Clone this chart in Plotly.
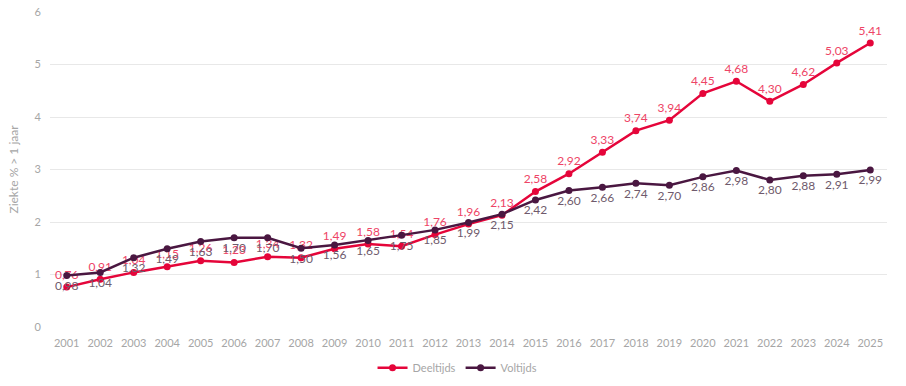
import plotly.graph_objects as go

years = [str(y) for y in range(2001, 2026)]
deeltijds = [0.76, 0.91, 1.04, 1.15, 1.26, 1.23, 1.34, 1.32, 1.49, 1.58, 1.54, 1.76, 1.96,
             2.13, 2.58, 2.92, 3.33, 3.74, 3.94, 4.45, 4.68, 4.30, 4.62, 5.03, 5.41]
voltijds = [0.98, 1.04, 1.32, 1.49, 1.63, 1.70, 1.70, 1.50, 1.56, 1.65, 1.75, 1.85, 1.99,
            2.15, 2.42, 2.60, 2.66, 2.74, 2.70, 2.86, 2.98, 2.80, 2.88, 2.91, 2.99]
y_ticks = [0, 1, 2, 3, 4, 5, 6]

def fmt(v):
    return f"{v:.2f}".replace(".", ",")

FONT = "Lato, 'Open Sans', sans-serif"

fig = go.Figure()
fig.add_trace(go.Scatter(
    x=years, y=deeltijds, name="Deeltijds", mode="lines+markers+text",
    line=dict(color="#E5053A", width=2.5), marker=dict(size=7, color="#E5053A"),
    text=[fmt(v) for v in deeltijds], textposition="top center",
    textfont=dict(color="#EE4466", size=12, family=FONT),
    cliponaxis=False,
))
fig.add_trace(go.Scatter(
    x=years, y=voltijds, name="Voltijds", mode="lines+markers+text",
    line=dict(color="#4A1741", width=2.5), marker=dict(size=7, color="#4A1741"),
    text=[fmt(v) for v in voltijds], textposition="bottom center",
    textfont=dict(color="#6F5A6C", size=12, family=FONT),
    cliponaxis=False,
))

fig.update_layout(
    width=906, height=386,
    margin=dict(l=50, r=19, t=12, b=59, autoexpand=False),
    paper_bgcolor="white", plot_bgcolor="white",
    font=dict(family=FONT, color="#A6A6A6", size=11),
    showlegend=True,
    legend=dict(orientation="h", x=0.505, xref="container", xanchor="center",
                y=0.047, yref="container", yanchor="middle",
                font=dict(size=11, color="#A6A6A6")),
    xaxis=dict(type="category", range=[-0.5, 24.5], showgrid=False, showline=False,
               zeroline=False, ticks="", automargin=False, ticklabelstandoff=8,
               tickfont=dict(size=11, color="#A6A6A6")),
    yaxis=dict(range=[0, 6], tickvals=y_ticks, showgrid=True, gridcolor="#E8E8E8",
               gridwidth=1, zeroline=False, showline=False, ticks="", automargin=False,
               ticklabelstandoff=8, ticklabeloverflow="allow",
               title=dict(text="Ziekte % > 1 jaar", font=dict(size=12, color="#A6A6A6"), standoff=13),
               tickfont=dict(size=11, color="#A6A6A6")),
)

fig.write_html("out.html", config={"displayModeBar": False},
               post_script="document.body.style.margin='0';document.body.style.overflow='hidden';")
